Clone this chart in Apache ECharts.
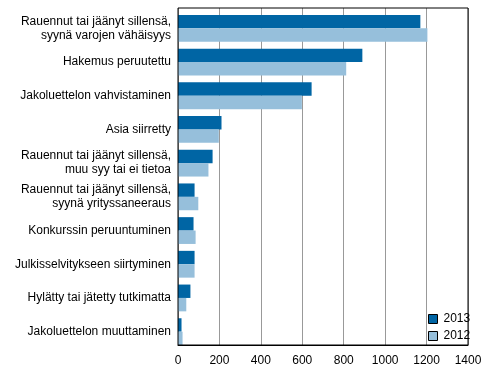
<!DOCTYPE html>
<html lang="fi">
<head>
  <meta charset="UTF-8">
  <title>Konkurssit</title>
  <style>
    body { margin: 0; padding: 0; background: #fff; }
    #chart { width: 491px; height: 378px; }
  </style>
</head>
<body>
  <div id="chart"></div>
  <script src="https://cdn.jsdelivr.net/npm/echarts@6/dist/echarts.min.js"></script>
  <script>
    var categories = [
      'Rauennut tai jäänyt sillensä,\nsyynä varojen vähäisyys',
      'Hakemus peruutettu',
      'Jakoluettelon vahvistaminen',
      'Asia siirretty',
      'Rauennut tai jäänyt sillensä,\nmuu syy tai ei tietoa',
      'Rauennut tai jäänyt sillensä,\nsyynä yrityssaneeraus',
      'Konkurssin peruuntuminen',
      'Julkisselvitykseen siirtyminen',
      'Hylätty tai jätetty tutkimatta',
      'Jakoluettelon muuttaminen'
    ];
    var values2013 = [1170, 890, 645, 210, 167, 80, 75, 80, 60, 17];
    var values2012 = [1204, 812, 598, 197, 147, 98, 85, 80, 40, 22];
    var xTicks = [0, 200, 400, 600, 800, 1000, 1200, 1400];

    var font = 'Liberation Sans, Arial, sans-serif';
    var chart = echarts.init(document.getElementById('chart'));

    var option = {
      animation: false,
      textStyle: { fontFamily: font },
      grid: [
        { left: 178, right: 23, top: 8, bottom: 33, show: true, borderColor: '#000', borderWidth: 1, z: 5 },
        { left: 178, right: 23, top: 11.5, bottom: 29.5 }
      ],
      legend: {
        orient: 'vertical',
        left: 423,
        top: 308,
        itemWidth: 9,
        itemHeight: 9,
        itemGap: 5,
        icon: 'rect',
        data: ['2013', '2012'],
        itemStyle: { borderColor: '#000', borderWidth: 1 },
        textStyle: { fontFamily: font, fontSize: 12, color: '#000', padding: [0, 0, 0, 1] }
      },
      xAxis: [
        {
          gridIndex: 0, type: 'value', min: 0, max: xTicks[xTicks.length - 1], interval: 200,
          axisLine: { show: true, lineStyle: { color: '#000' } },
          axisTick: { show: false },
          axisLabel: {
            color: '#000', fontSize: 12, fontFamily: font, margin: 10,
            formatter: function (v) { return String(v); }
          },
          splitLine: { show: true, lineStyle: { color: '#999', width: 1 } }
        },
        {
          gridIndex: 1, type: 'value', min: 0, max: 1400, show: false
        }
      ],
      yAxis: [
        { gridIndex: 0, type: 'value', show: false },
        {
          gridIndex: 1, type: 'category', inverse: true, data: categories,
          axisLine: { show: false },
          axisTick: { show: false },
          axisLabel: { color: '#000', fontSize: 12, fontFamily: font, margin: 7, lineHeight: 14, align: 'right' }
        }
      ],
      series: [
        {
          name: '2013', type: 'bar', xAxisIndex: 1, yAxisIndex: 1,
          data: values2013, barWidth: 13.4, barGap: '0%',
          itemStyle: { color: '#0065a4' }
        },
        {
          name: '2012', type: 'bar', xAxisIndex: 1, yAxisIndex: 1,
          data: values2012, barWidth: 13.4, barGap: '0%',
          itemStyle: { color: '#96bfdb' }
        }
      ]
    };

    chart.setOption(option);
  </script>
</body>
</html>
